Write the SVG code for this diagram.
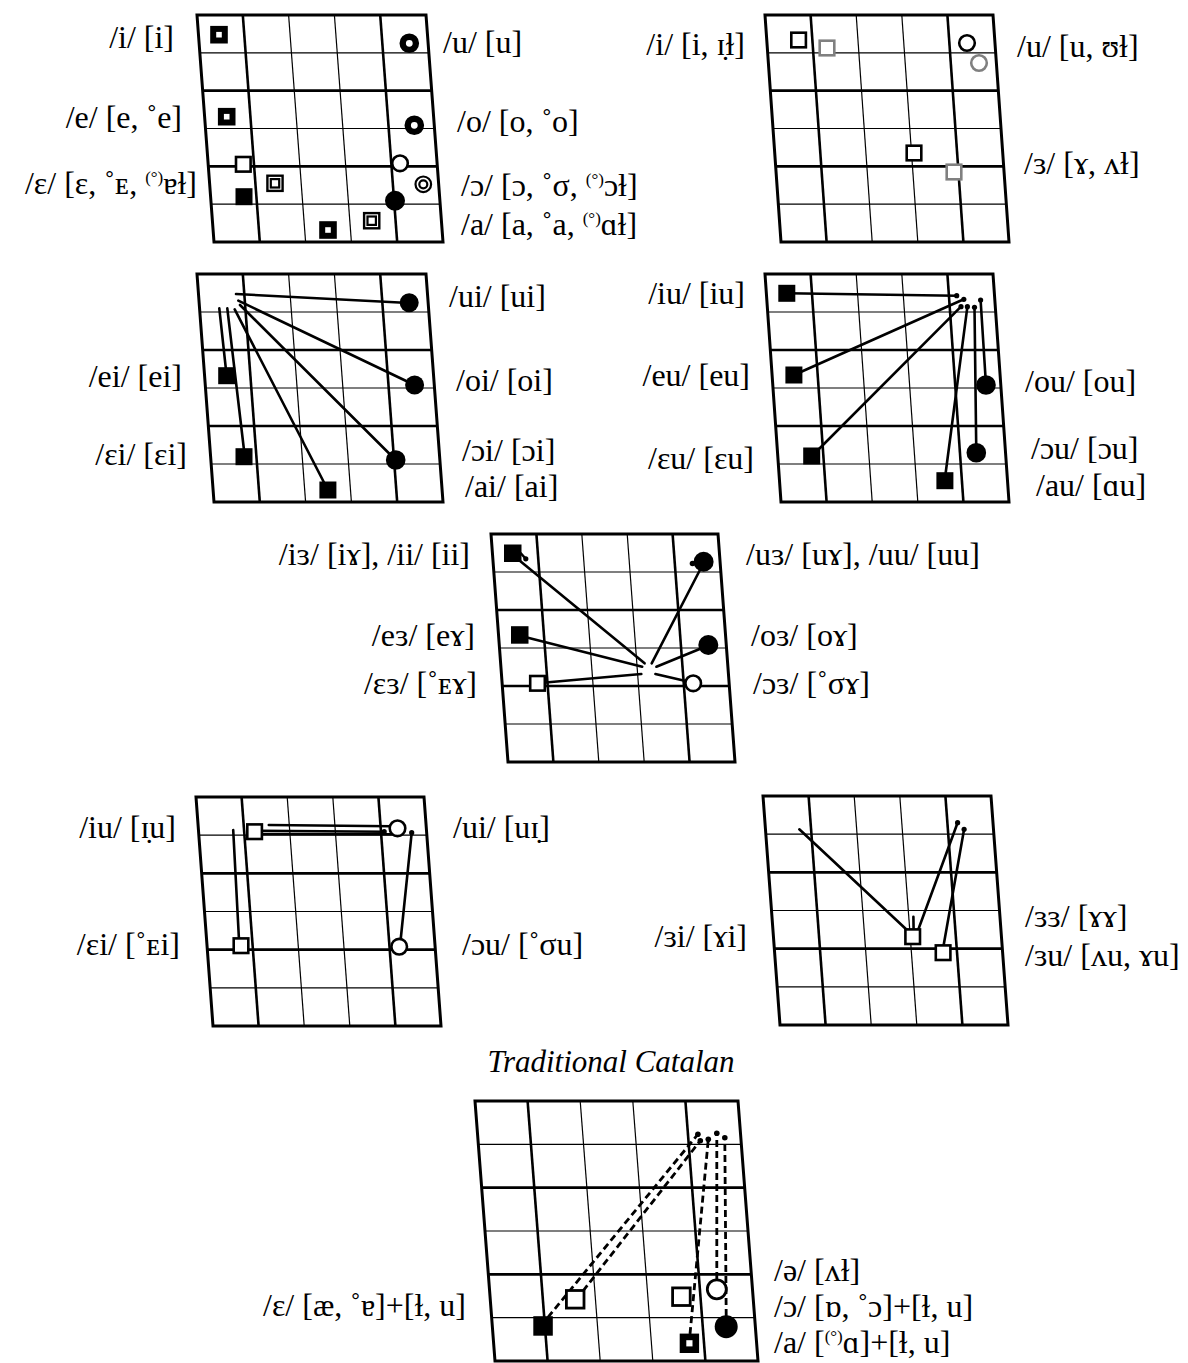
<svg xmlns="http://www.w3.org/2000/svg" xmlns:xlink="http://www.w3.org/1999/xlink" width="1188" height="1363" viewBox="0 0 1188 1363">
<style>
text{font-family:"Liberation Serif","DejaVu Serif","Noto Sans",serif;font-size:32px;fill:#000}
.l{text-anchor:end}
.r{text-anchor:start}
.sup{font-size:17px}
.title{font-style:italic;font-size:31px;text-anchor:middle}
.cn line{stroke:#000;stroke-width:2.6;stroke-linecap:round}
.dash line{stroke:#000;stroke-width:2.8;stroke-dasharray:7 4;stroke-linecap:butt}
.dot{fill:#000}
</style>
<defs>
<g id="grid" fill="none" stroke="#000">
<line x1="2" y1="0" x2="2" y2="6" stroke-width="1.2" vector-effect="non-scaling-stroke"/>
<line x1="3" y1="0" x2="3" y2="6" stroke-width="1.2" vector-effect="non-scaling-stroke"/>
<line x1="0" y1="1" x2="5" y2="1" stroke-width="1.2" vector-effect="non-scaling-stroke"/>
<line x1="0" y1="3" x2="5" y2="3" stroke-width="1.2" vector-effect="non-scaling-stroke"/>
<line x1="0" y1="5" x2="5" y2="5" stroke-width="1.2" vector-effect="non-scaling-stroke"/>
<line x1="1" y1="0" x2="1" y2="6" stroke-width="2.6" vector-effect="non-scaling-stroke"/>
<line x1="4" y1="0" x2="4" y2="6" stroke-width="2.6" vector-effect="non-scaling-stroke"/>
<line x1="0" y1="2" x2="5" y2="2" stroke-width="2.6" vector-effect="non-scaling-stroke"/>
<line x1="0" y1="4" x2="5" y2="4" stroke-width="2.6" vector-effect="non-scaling-stroke"/>
<rect x="0" y="0" width="5" height="6" stroke-width="3" vector-effect="non-scaling-stroke"/>
</g>
<rect id="sqB" x="-5.8" y="-5.8" width="11.6" height="11.6" fill="#fff" stroke="#000" stroke-width="6"/>
<rect id="sqF" x="-8.5" y="-8.5" width="17" height="17" fill="#000"/>
<rect id="sqO" x="-7.3" y="-7.3" width="14.6" height="14.6" fill="#fff" stroke="#000" stroke-width="2.6"/>
<rect id="sqG" x="-7.3" y="-7.3" width="14.6" height="14.6" fill="#fff" stroke="#808080" stroke-width="2.6"/>
<g id="sqD"><rect x="-7.6" y="-7.6" width="15.2" height="15.2" fill="#fff" stroke="#000" stroke-width="2.4"/><rect x="-4.2" y="-4.2" width="8.4" height="8.4" fill="#fff" stroke="#000" stroke-width="2.2"/></g>
<circle id="ciB" r="6.6" fill="#fff" stroke="#000" stroke-width="6.4"/>
<circle id="ciO" r="7.8" fill="#fff" stroke="#000" stroke-width="2.6"/>
<circle id="ciG" r="7.8" fill="#fff" stroke="#808080" stroke-width="2.6"/>
<g id="ciD"><circle r="7.8" fill="#fff" stroke="#000" stroke-width="2.2"/><circle r="4" fill="#fff" stroke="#000" stroke-width="2.2"/></g>
</defs>
<rect width="1188" height="1363" fill="#fff"/>

<g id="grids">
<use id="grid1" xlink:href="#grid" href="#grid" transform="matrix(45.8 0 2.833 37.833 197 15)"/>
<use id="grid2" xlink:href="#grid" href="#grid" transform="matrix(45.6 0 2.667 37.833 765 15)"/>
<use id="grid3" xlink:href="#grid" href="#grid" transform="matrix(45.8 0 2.833 38 197 274)"/>
<use id="grid4" xlink:href="#grid" href="#grid" transform="matrix(45.6 0 2.667 38 765 274)"/>
<use id="gridM" xlink:href="#grid" href="#grid" transform="matrix(45.4 0 2.833 38 491 534)"/>
<use id="grid5" xlink:href="#grid" href="#grid" transform="matrix(45.6 0 2.833 38.167 196 797)"/>
<use id="grid6" xlink:href="#grid" href="#grid" transform="matrix(45.6 0 2.833 38.167 763 796)"/>
<use id="grid7" xlink:href="#grid" href="#grid" transform="matrix(52.6 0 3.333 43.333 475 1101)"/>
</g>

<g id="connectors">
<g class="cn" id="conn3">
<line x1="236" y1="294" x2="409" y2="303"/>
<line x1="238.3" y1="300.7" x2="414.6" y2="385"/>
<line x1="240" y1="305" x2="395.7" y2="460"/>
<line x1="234.7" y1="309.3" x2="327.9" y2="490"/>
<line x1="219.3" y1="308.3" x2="226" y2="370"/>
<line x1="227.3" y1="308.3" x2="244" y2="450"/>
</g>
<g class="cn" id="conn4">
<line x1="787" y1="293.3" x2="956.7" y2="295.7"/>
<line x1="794" y1="375" x2="963.8" y2="299.3"/>
<line x1="812" y1="456" x2="961" y2="306.7"/>
<line x1="945" y1="478" x2="967.4" y2="306.7"/>
<line x1="976.3" y1="452.7" x2="974.5" y2="307.3"/>
<line x1="986" y1="385" x2="980.6" y2="300"/>
</g>
<g class="cn" id="connM">
<line x1="514" y1="556" x2="644.6" y2="663.3"/>
<line x1="702" y1="566" x2="651.7" y2="663.3"/>
<line x1="521" y1="636" x2="642.2" y2="666.7"/>
<line x1="707" y1="646" x2="656.4" y2="666.7"/>
<line x1="540" y1="683" x2="641.3" y2="674"/>
<line x1="690" y1="682" x2="655.4" y2="674"/>
<line x1="521" y1="553.5" x2="525.5" y2="558.5"/>
<line x1="692.5" y1="563.5" x2="697" y2="562"/>
</g>
<g class="cn" id="conn5">
<line x1="233.2" y1="830" x2="239" y2="940"/>
<line x1="400" y1="946" x2="411.7" y2="832.7"/>
<line x1="268.8" y1="825" x2="392" y2="826.2"/>
<line x1="260" y1="830.7" x2="384.2" y2="831.7"/>
<line x1="260" y1="834" x2="391" y2="834.2"/>
</g>
<g class="cn" id="conn6">
<line x1="799.3" y1="829.3" x2="907" y2="930"/>
<line x1="918.5" y1="929" x2="957.6" y2="822.7"/>
<line x1="943.5" y1="946" x2="964.1" y2="829.3"/>
<line x1="913.4" y1="916.7" x2="913.6" y2="929"/>
</g>
<g class="dash" id="conn7">
<line x1="547.9" y1="1317.3" x2="697.9" y2="1134.3"/>
<line x1="583" y1="1291" x2="700.3" y2="1140.7"/>
<line x1="690" y1="1334" x2="708.3" y2="1139.3"/>
<line x1="716.8" y1="1279" x2="716.8" y2="1133.3"/>
<line x1="726.2" y1="1316" x2="724.8" y2="1137.7"/>
</g>
<g id="dots" class="dot">
<circle cx="956.7" cy="295.7" r="2.6"/><circle cx="963.8" cy="299.3" r="2.6"/><circle cx="980.6" cy="300" r="2.6"/>
<circle cx="961" cy="306.7" r="2.6"/><circle cx="967.4" cy="306.7" r="2.6"/><circle cx="974.5" cy="307.3" r="2.6"/>
<circle cx="525.8" cy="558.8" r="2.6"/><circle cx="692.5" cy="563.5" r="2.8"/>
<circle cx="384.2" cy="831.7" r="2.6"/><circle cx="411.7" cy="832.7" r="2.6"/>
<circle cx="957.6" cy="822.7" r="2.6"/><circle cx="964.1" cy="829.3" r="2.6"/>
<circle cx="697.9" cy="1134.3" r="2.8"/><circle cx="700.3" cy="1140.7" r="2.8"/><circle cx="708.3" cy="1139.3" r="2.8"/><circle cx="716.8" cy="1133.3" r="2.8"/><circle cx="724.8" cy="1137.7" r="2.8"/>
</g>
</g>

<g id="chart1">
<g id="n1-i"><use href="#sqB" x="219" y="34.7"/><text class="l" x="174" y="48">/i/ [i]</text></g>
<g id="n1-u"><use href="#ciB" x="409.3" y="43.3"/><text class="r" x="443" y="53">/u/ [u]</text></g>
<g id="n1-e"><use href="#sqB" x="226.7" y="116.7"/><text class="l" x="182" y="128">/e/ [e, ˚e]</text></g>
<g id="n1-o"><use href="#ciB" x="414.3" y="125.3"/><text class="r" x="457" y="132">/o/ [o, ˚o]</text></g>
<g id="n1-eps"><use href="#sqO" x="243.3" y="164.3"/><use href="#sqF" x="244" y="196.7"/><use href="#sqD" x="275" y="183.3"/><text class="l" x="197" y="194">/ɛ/ [ɛ, ˚ᴇ, <tspan class="sup" dy="-11">(°)</tspan><tspan dy="11">ɐɫ]</tspan></text></g>
<g id="n1-open-o"><use href="#ciO" x="400" y="163.3"/><use href="#ciD" x="423.3" y="184.3"/><circle cx="395" cy="200.7" r="10" fill="#000"/><text class="r" x="461" y="196">/ɔ/ [ɔ, ˚σ, <tspan class="sup" dy="-11">(°)</tspan><tspan dy="11">ɔɫ]</tspan></text></g>
<g id="n1-a"><use href="#sqB" x="328" y="230"/><use href="#sqD" x="371.7" y="220.7"/><text class="r" x="461" y="235">/a/ [a, ˚a, <tspan class="sup" dy="-11">(°)</tspan><tspan dy="11">ɑɫ]</tspan></text></g>
</g>

<g id="chart2">
<g id="n2-i"><use href="#sqO" x="798.6" y="40"/><use href="#sqG" x="827" y="48"/><text class="l" x="745" y="55">/i/ [i, ɪ̣ɫ]</text></g>
<g id="n2-u"><use href="#ciO" x="967" y="43"/><use href="#ciG" x="979" y="63"/><text class="r" x="1017" y="57">/u/ [u, ʊɫ]</text></g>
<g id="n2-schwa"><use href="#sqO" x="914" y="153"/><use href="#sqG" x="954" y="172"/><text class="r" x="1024" y="174">/ɜ/ [ɤ, ʌɫ]</text></g>
</g>

<g id="chart3">
<g id="n3-ui"><circle cx="409.2" cy="302.7" r="9.5" fill="#000"/><text class="r" x="449" y="307">/ui/ [ui]</text></g>
<g id="n3-ei"><use href="#sqF" x="226.7" y="375.7"/><text class="l" x="182" y="387">/ei/ [ei]</text></g>
<g id="n3-oi"><circle cx="414.6" cy="385" r="9.5" fill="#000"/><text class="r" x="456" y="391">/oi/ [oi]</text></g>
<g id="n3-epsi"><use href="#sqF" x="244" y="456.7"/><text class="l" x="187" y="465">/ɛi/ [ɛi]</text></g>
<g id="n3-oi2"><circle cx="395.7" cy="460" r="9.8" fill="#000"/><text class="r" x="462" y="461">/ɔi/ [ɔi]</text></g>
<g id="n3-ai"><use href="#sqF" x="327.9" y="490"/><text class="r" x="465" y="497">/ai/ [ai]</text></g>
</g>

<g id="chart4">
<g id="n4-iu"><use href="#sqF" x="786.8" y="293.3"/><text class="l" x="745" y="304">/iu/ [iu]</text></g>
<g id="n4-eu"><use href="#sqF" x="793.9" y="375"/><text class="l" x="750" y="386">/eu/ [eu]</text></g>
<g id="n4-ou"><circle cx="986" cy="385" r="9.8" fill="#000"/><text class="r" x="1025" y="392">/ou/ [ou]</text></g>
<g id="n4-epsu"><use href="#sqF" x="811.7" y="456"/><text class="l" x="754" y="469">/ɛu/ [ɛu]</text></g>
<g id="n4-ou2"><circle cx="976.3" cy="452.7" r="9.8" fill="#000"/><text class="r" x="1031" y="459">/ɔu/ [ɔu]</text></g>
<g id="n4-au"><use href="#sqF" x="944.9" y="480.7"/><text class="r" x="1036" y="496">/au/ [ɑu]</text></g>
</g>

<g id="chartM">
<g id="nM-i3"><rect x="504" y="544.5" width="17.5" height="17.5" fill="#000"/><text class="l" x="470" y="565">/iɜ/ [iɤ], /ii/ [ii]</text></g>
<g id="nM-u3"><circle cx="703.6" cy="561.7" r="10" fill="#000"/><text class="r" x="746" y="565">/uɜ/ [uɤ], /uu/ [uu]</text></g>
<g id="nM-e3"><rect x="511" y="626.2" width="17.5" height="17.5" fill="#000"/><text class="l" x="475" y="646">/eɜ/ [eɤ]</text></g>
<g id="nM-o3"><circle cx="708.3" cy="645" r="10" fill="#000"/><text class="r" x="751" y="646">/oɜ/ [oɤ]</text></g>
<g id="nM-eps3"><use href="#sqO" x="537.5" y="683.3"/><text class="l" x="477" y="694">/ɛɜ/ [˚ᴇɤ]</text></g>
<g id="nM-open3"><use href="#ciO" x="693.2" y="683.3"/><text class="r" x="753" y="694">/ɔɜ/ [˚σɤ]</text></g>
</g>

<g id="chart5">
<g id="n5-iu"><use href="#sqO" x="254.6" y="831.7"/><text class="l" x="176" y="838">/iu/ [ɪ̣u]</text></g>
<g id="n5-ui"><use href="#ciO" x="397.5" y="828.3"/><text class="r" x="453" y="838">/ui/ [uɪ̣]</text></g>
<g id="n5-epsi"><use href="#sqO" x="241" y="945.7"/><text class="l" x="180" y="955">/ɛi/ [˚ᴇi]</text></g>
<g id="n5-ou"><use href="#ciO" x="399.2" y="946.7"/><text class="r" x="462" y="955">/ɔu/ [˚σu]</text></g>
</g>

<g id="chart6">
<g id="n6-3i"><use href="#sqO" x="912.7" y="936.7"/><text class="l" x="747" y="947">/ɜi/ [ɤi]</text></g>
<g id="n6-33"><text class="r" x="1025" y="927">/ɜɜ/ [ɤɤ]</text></g>
<g id="n6-3u"><use href="#sqO" x="943.1" y="952.7"/><text class="r" x="1025" y="966">/ɜu/ [ʌu, ɤu]</text></g>
</g>

<g id="chart7">
<text class="title" x="611" y="1072">Traditional Catalan</text>
<g id="n7-eps"><rect x="533.3" y="1316.2" width="19.5" height="19.5" fill="#000"/><rect x="566.4" y="1290.5" width="17.6" height="17.6" fill="#fff" stroke="#000" stroke-width="2.8"/><text class="l" x="466" y="1316">/ɛ/ [æ, ˚ɐ]+[ɫ, u]</text></g>
<g id="n7-schwa"><rect x="672.6" y="1287.9" width="17.6" height="17.6" fill="#fff" stroke="#000" stroke-width="2.8"/><text class="r" x="774" y="1281">/ə/ [ʌɫ]</text></g>
<g id="n7-open-o"><circle cx="716.8" cy="1289.3" r="9.5" fill="#fff" stroke="#000" stroke-width="2.8"/><text class="r" x="774" y="1317">/ɔ/ [ɒ, ˚ɔ]+[ɫ, u]</text></g>
<g id="n7-a"><rect x="683" y="1336.9" width="12.8" height="12.8" fill="#fff" stroke="#000" stroke-width="6.6"/><circle cx="726.2" cy="1326.7" r="11.5" fill="#000"/><text class="r" x="774" y="1353">/a/ [<tspan class="sup" dy="-11">(°)</tspan><tspan dy="11">ɑ]+[ɫ, u]</tspan></text></g>
</g>
</svg>
